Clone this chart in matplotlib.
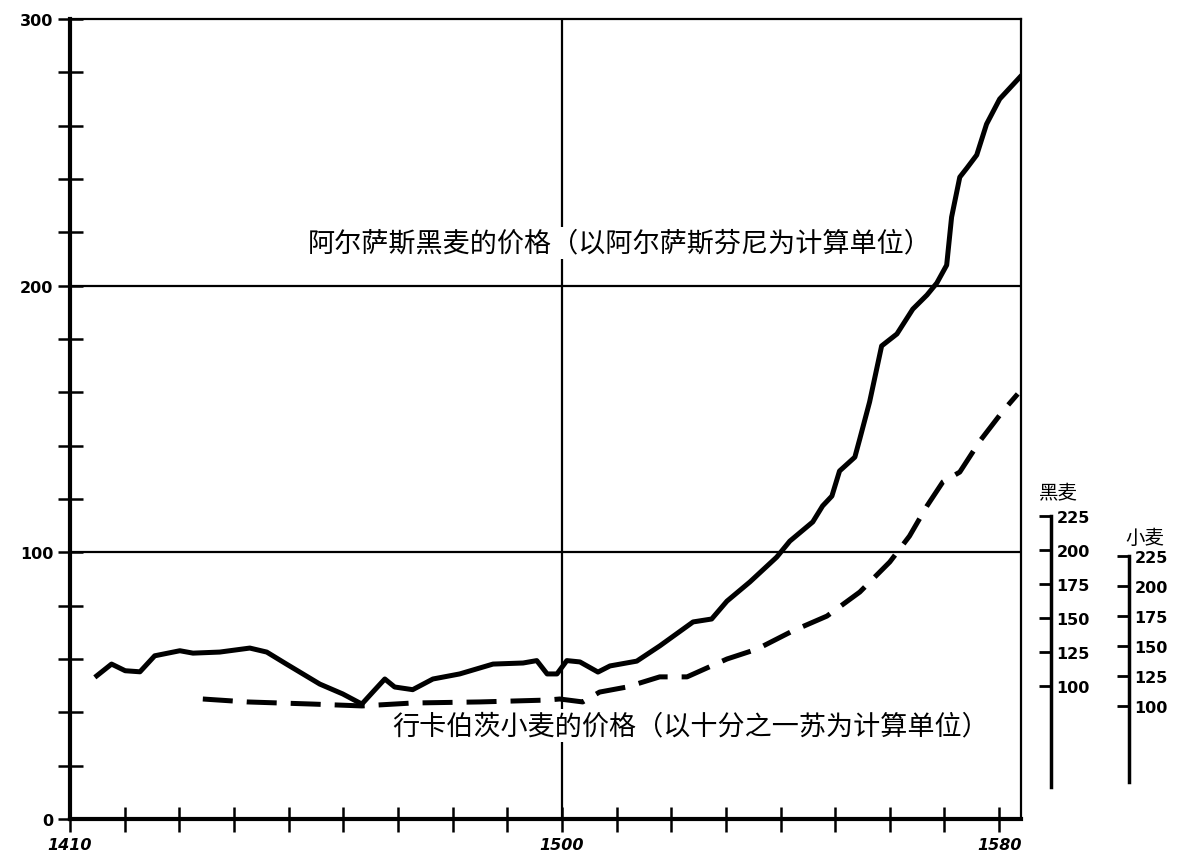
import matplotlib
matplotlib.use('Agg')
import matplotlib.pyplot as plt

plt.rcParams['font.family'] = ['Noto Sans CJK SC', 'DejaVu Sans']

# rye, Alsace (solid)
rye_years = [1414.9, 1417.6, 1420.1, 1422.8, 1425.5, 1430.1, 1432.5, 1437.4, 1442.9, 1446.0,
             1449.6, 1455.7, 1459.9, 1463.4, 1465.4, 1467.6, 1469.4, 1472.7, 1476.4, 1481.3,
             1487.4, 1492.9, 1495.4, 1497.3, 1499.1, 1500.9, 1503.3, 1506.6, 1508.8, 1513.7,
             1517.9, 1524.0, 1527.4, 1530.2, 1534.4, 1539.3, 1541.7, 1545.9, 1547.7, 1549.4,
             1550.8, 1553.6, 1554.5, 1556.3, 1558.5, 1561.3, 1564.2, 1566.8, 1568.6, 1570.4,
             1571.3, 1572.8, 1574.1, 1575.9, 1577.7, 1580.1, 1583.8]
rye_price = [53.7, 58.1, 55.6, 55.2, 61.2, 63.1, 62.2, 62.6, 64.1, 62.6,
             58.1, 50.6, 46.9, 43.1, 47.6, 52.5, 49.5, 48.5, 52.5, 54.4,
             58.1, 58.5, 59.4, 54.4, 54.4, 59.4, 58.9, 55.1, 57.4, 59.2,
             64.9, 73.9, 75.0, 81.7, 88.9, 98.2, 104.2, 111.4, 117.4, 121.1,
             130.5, 135.7, 142.5, 156.4, 177.4, 181.9, 191.2, 196.5, 201.0, 207.7,
             225.7, 240.7, 244.1, 249.0, 260.6, 270.0, 278.2]

# wheat (dashed)
wheat_years = [1434.3, 1442.4, 1454.4, 1463.4, 1472.7, 1485.0, 1497.3, 1499.6, 1503.8, 1506.9,
               1511.9, 1517.9, 1522.9, 1530.2, 1535.7, 1542.2, 1548.5, 1554.5, 1560.0, 1563.6,
               1566.8, 1569.7, 1572.8, 1576.5, 1580.7, 1583.4]
wheat_price = [45.0, 43.9, 43.1, 42.4, 43.5, 43.9, 44.6, 45.0, 43.9, 47.6,
               49.5, 53.3, 53.3, 60.0, 63.7, 70.5, 76.1, 85.1, 96.4, 106.1,
               117.4, 126.4, 130.1, 141.8, 153.0, 159.4]

x_ticks = list(range(1410, 1581, 10))
x_labels = {1410: '1410', 1500: '1500', 1580: '1580'}
y_ticks = list(range(0, 301, 20))
y_labels = {0: '0', 100: '100', 200: '200', 300: '300'}
scale_ticks = [100, 125, 150, 175, 200, 225]

label_rye = '阿尔萨斯黑麦的价格（以阿尔萨斯芬尼为计算单位）'
label_wheat = '行卡伯茨小麦的价格（以十分之一苏为计算单位）'

W, H = 1189, 862
fig = plt.figure(figsize=(W / 100, H / 100), dpi=100)
ax = fig.add_axes([70 / W, 42 / H, 951 / W, 800 / H])

ax.plot(rye_years, rye_price, color='black', lw=3.6, solid_joinstyle='round', zorder=3)
ax.plot(wheat_years, wheat_price, color='black', lw=3.6, dashes=(6, 2.8),
        dash_capstyle='butt', zorder=3)

ax.set_xlim(1410, 1584)
ax.set_ylim(0, 300)

for v in (100, 200):
    ax.axhline(v, color='black', lw=1.6, zorder=1)
ax.axvline(1500, color='black', lw=1.6, zorder=1)

ax.set_xticks(x_ticks)
ax.set_xticklabels([x_labels.get(t, '') for t in x_ticks], fontstyle='italic',
                   fontweight='bold', fontsize=11.5, family='DejaVu Sans')
ax.set_yticks(y_ticks)
ax.set_yticklabels([y_labels.get(t, '') for t in y_ticks], fontweight='bold',
                   fontsize=11.5, family='DejaVu Sans')
ax.tick_params(axis='both', direction='inout', length=18, width=1.8, color='black')
ax.tick_params(axis='x', pad=4)
ax.tick_params(axis='y', pad=3)

ax.spines['left'].set_linewidth(3)
ax.spines['bottom'].set_linewidth(3)
ax.spines['top'].set_linewidth(1.6)
ax.spines['right'].set_linewidth(1.6)

ax.text(1510.5, 216, label_rye, ha='center', va='center', fontsize=19.5,
        bbox=dict(facecolor='white', edgecolor='none', pad=2), zorder=4)
ax.text(1523.5, 35, label_wheat, ha='center', va='center', fontsize=19.5,
        bbox=dict(facecolor='white', edgecolor='none', pad=2), zorder=4)


def side_scale(right_px, top_px, bottom_px, lo, title, title_xy):
    sax = fig.add_axes([(right_px - 10) / W, 1 - bottom_px / H, 10 / W,
                        (bottom_px - top_px) / H])
    sax.set_ylim(lo, 225)
    sax.set_xticks([])
    for s in ('left', 'top', 'bottom'):
        sax.spines[s].set_visible(False)
    sax.spines['right'].set_linewidth(2.5)
    sax.yaxis.tick_right()
    sax.set_yticks(scale_ticks)
    sax.set_yticklabels([str(t) for t in scale_ticks], fontweight='bold', fontsize=11.5,
                        family='DejaVu Sans')
    sax.tick_params(axis='y', direction='in', length=9, width=2, pad=4)
    sax.patch.set_visible(False)
    fig.text(title_xy[0] / W, 1 - title_xy[1] / H, title, ha='center', va='center',
             fontsize=14)


side_scale(1051, 517, 788, 25.7, '黑麦', (1058, 493))
side_scale(1129, 557, 783, 36.7, '小麦', (1145, 538))

fig.savefig('out.png', dpi=100)
